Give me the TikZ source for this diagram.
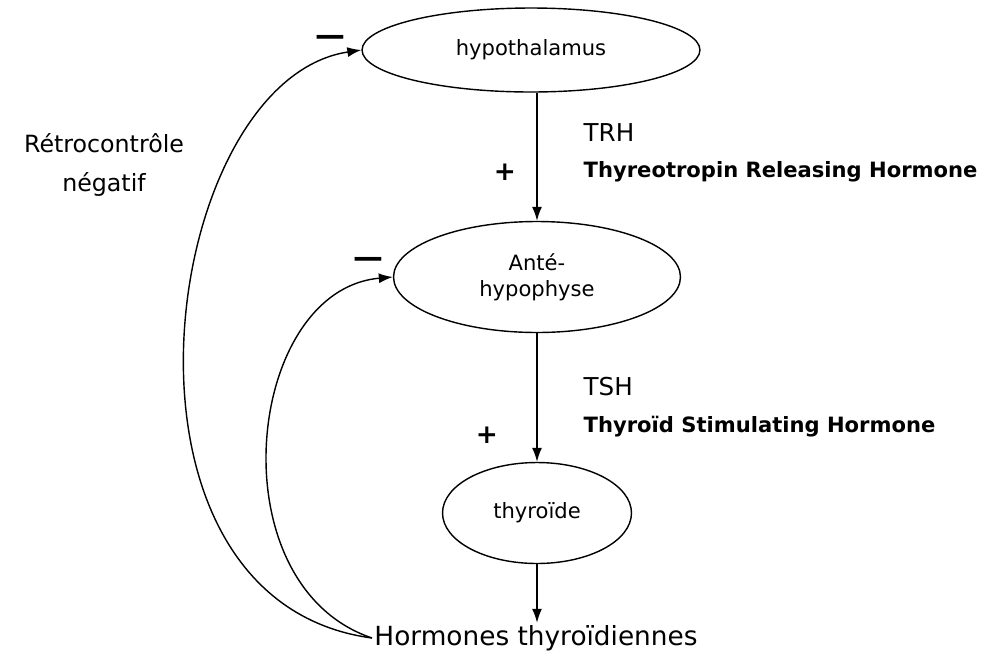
\documentclass[tikz,border=0pt]{standalone}
\usepackage{fontspec}
\setmainfont{DejaVu Sans}
\usetikzlibrary{arrows.meta,positioning,shapes.geometric}

\begin{document}
\begin{tikzpicture}[x=0.02cm,y=-0.02cm,>={Latex[length=2.8mm,width=2mm]},line width=0.8pt,
    organ/.style={draw,ellipse,inner sep=0pt,align=center,font=\fontsize{12}{15}\selectfont},
    hormone/.style={anchor=west,inner sep=0pt,font=\fontsize{14}{16}\selectfont},
    fullname/.style={anchor=west,inner sep=0pt,font=\fontsize{12}{14}\selectfont\bfseries},
    sign/.style={inner sep=0pt,font=\fontsize{15}{16}\selectfont\bfseries}]
  \useasboundingbox (0,0) rectangle (984,657);
  % glandes
  \node[organ,minimum width=6.76cm,minimum height=1.68cm] (hypo) at (531,50) {hypothalamus};
  \node[organ,minimum width=5.74cm,minimum height=2.22cm] (ante) at (537,277) {Anté-\\hypophyse};
  \node[organ,minimum width=3.78cm,minimum height=2.02cm] (thyro) at (537,513) {thyroïde};
  \node[inner sep=1pt,font=\fontsize{15}{16}\selectfont] (hormones) at (536,638) {Hormones thyroïdiennes};
  \draw[->] (hypo.south -| ante.north) -- (ante.north);
  \draw[->] (ante) -- (thyro);
  \draw[->] (thyro) -- (hormones.north -| thyro.south);
  % stimulations
  \node[hormone] (trh) at (583,133) {TRH};
  \node[fullname] (trhname) at (583,172) {Thyreotropin Releasing Hormone};
  \node[sign] (plus1) at (505,172) {+};
  \node[hormone] (tsh) at (583,387) {TSH};
  \node[fullname] (tshname) at (583,427) {Thyroïd Stimulating Hormone};
  \node[sign] (plus2) at (487,435) {+};
  % retrocontroles
  \draw[->] (hormones.west) .. controls (90,600) and (160,80) .. (hypo.west);
  \draw[->] (hormones.west) .. controls (215,585) and (245,290) .. (ante.west);
  \node[sign,font=\fontsize{17}{18}\selectfont\bfseries] (minus1) at (330,40) {—};
  \node[sign,font=\fontsize{17}{18}\selectfont\bfseries] (minus2) at (368,262) {—};
  \node[align=center,font=\fontsize{13.5}{22}\selectfont] (retro) at (104,165) {Rétrocontrôle\\négatif};
\end{tikzpicture}
\end{document}
